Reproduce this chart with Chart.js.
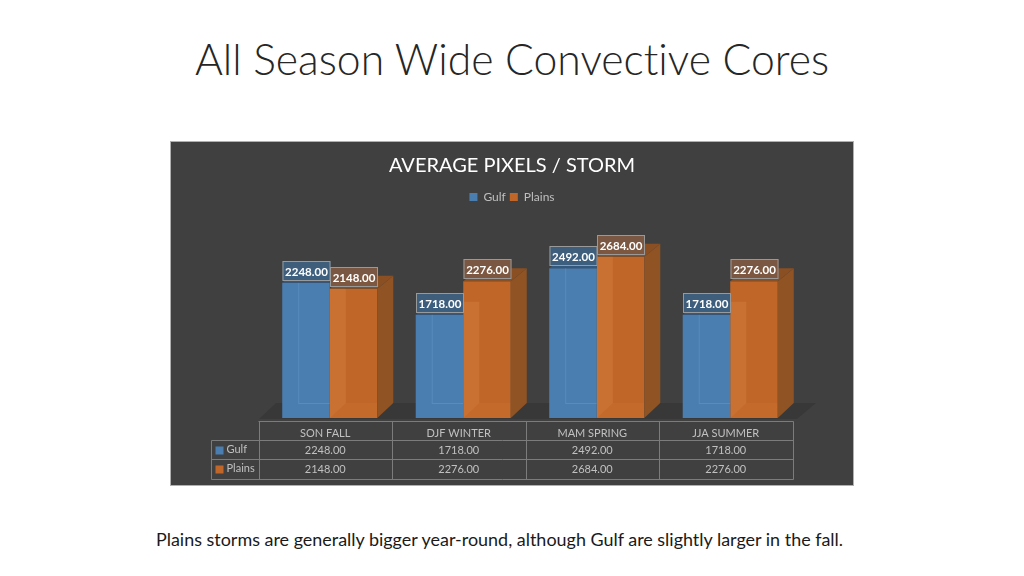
<!DOCTYPE html>
<html>
<head>
<meta charset="utf-8">
<script src="https://cdn.jsdelivr.net/npm/chart.js@4"></script>
<style>
  html, body { margin: 0; padding: 0; background: #fff; width: 1024px; height: 576px; overflow: hidden; }
  #title { position: absolute; left: 0; width: 1024px; top: 33px; text-align: center; font: 300 42.7px Lato, sans-serif; font-variant-ligatures: none; color: #262626; white-space: nowrap; }
  #panel { position: absolute; left: 170px; top: 141px; width: 684px; height: 345px; background: #404040; box-shadow: inset 0 0 0 1px #b0b0b0; }
  #caption { position: absolute; left: 156px; top: 528px; font: 17.95px Lato, sans-serif; font-variant-ligatures: none; color: #1a1a1a; white-space: nowrap; }
</style>
</head>
<body>
<div id="title">All Season Wide Convective Cores</div>
<div id="panel"><canvas id="coresChart" width="684" height="345"></canvas></div>
<div id="caption">Plains storms are generally bigger year-round, although Gulf are slightly larger in the fall.</div>
<script>
const categories = ['SON FALL', 'DJF WINTER', 'MAM SPRING', 'JJA SUMMER'];
const gulfValues = [2248, 1718, 2492, 1718];
const plainsValues = [2148, 2276, 2684, 2276];
const gulfColor = '#4a7eb1';
const plainsColor = '#bf6628';
const depthX = 16;
const depthY = 13;

function poly(ctx, pts, fill) {
  ctx.beginPath();
  pts.forEach((p, i) => i ? ctx.lineTo(p[0], p[1]) : ctx.moveTo(p[0], p[1]));
  ctx.closePath();
  ctx.fillStyle = fill;
  ctx.fill();
}

// floor under the bars
const floorPlugin = {
  id: 'floor',
  beforeDatasetsDraw(chart) {
    const { ctx, chartArea: a, scales: { y } } = chart;
    const base = y.getPixelForValue(0);
    poly(ctx, [[a.left - 4, base + 1], [a.left + 13, base - 15], [a.right + 19, base - 15], [a.right, base + 1]], '#383838');
  }
};

// fake 3D faces on top of the flat bars
const depthPlugin = {
  id: 'depth',
  afterDatasetsDraw(chart) {
    const ctx = chart.ctx;
    const gulfBars = chart.getDatasetMeta(0).data;
    const plainsBars = chart.getDatasetMeta(1).data;
    ctx.save();
    plainsBars.forEach((bar, i) => {
      const l = bar.x - bar.width / 2, r = bar.x + bar.width / 2;
      const g = gulfBars[i], gl = g.x - g.width / 2;
      poly(ctx, [[r, bar.y], [r + depthX, bar.y - depthY], [r + depthX, bar.base - depthY - 2], [r, bar.base]], '#8f5324');
      poly(ctx, [[l, bar.y], [l + depthX, bar.y - depthY], [r + depthX, bar.y - depthY], [r, bar.y]], '#8a4f22');
      // gulf side seen through the plains bar
      const top = Math.max(g.y - depthY, bar.y);
      poly(ctx, [[l, top], [l + depthX, top], [l + depthX, bar.base - depthY - 2], [l, bar.base]], 'rgba(255,170,105,0.17)');
      poly(ctx, [[l, bar.base], [l + depthX, bar.base - depthY - 2], [r, bar.base - depthY - 2], [r, bar.base]], 'rgba(255,170,105,0.08)');
      // gulf cap stops where the plains bar starts
      poly(ctx, [[gl, g.y], [gl + depthX, g.y - depthY], [gl + g.width, g.y - depthY], [gl + g.width, g.y]], '#34597f');
      ctx.fillStyle = 'rgba(150,195,235,0.2)';
      ctx.fillRect(gl + depthX, g.y, 1, g.base - depthY - 2 - g.y);
      ctx.fillRect(gl + depthX, g.base - depthY - 2, g.width - depthX, 1);
    });
    ctx.restore();
  }
};

// value boxes above each bar
const labelPlugin = {
  id: 'valueLabels',
  afterDatasetsDraw(chart) {
    const ctx = chart.ctx;
    const fills = ['rgba(62,96,128,0.94)', 'rgba(124,88,66,0.94)'];
    ctx.save();
    ctx.font = 'bold 11.5px Lato, sans-serif';
    ctx.textAlign = 'center';
    ctx.textBaseline = 'middle';
    chart.data.datasets.forEach((ds, d) => {
      chart.getDatasetMeta(d).data.forEach((bar, i) => {
        const w = 48, h = 20;
        const x = bar.x - w / 2 + 0.5, y = Math.round(bar.y) - 22;
        ctx.fillStyle = fills[d];
        ctx.fillRect(x, y, w, h);
        ctx.strokeStyle = '#999999';
        ctx.lineWidth = 1;
        ctx.strokeRect(x + 0.5, y + 0.5, w - 1, h - 1);
        ctx.fillStyle = '#ffffff';
        ctx.fillText(ds.data[i].toFixed(2), bar.x + 0.5, y + h / 2 + 1);
      });
    });
    ctx.restore();
  }
};

// data table under the plot
const tablePlugin = {
  id: 'dataTable',
  afterDraw(chart) {
    const { ctx, scales: { x, y } } = chart;
    const base = y.getPixelForValue(0);
    const step = x.getPixelForValue(1) - x.getPixelForValue(0);
    const left = Math.round(x.getPixelForValue(0) - step / 2 - 5) + 0.5;
    const rows = [base + 3, base + 22, base + 41, base + 61].map(v => Math.round(v) + 0.5);
    const keyLeft = left - 47;
    ctx.save();
    ctx.strokeStyle = '#7c7c7c';
    ctx.lineWidth = 1;
    ctx.beginPath();
    categories.forEach((c, i) => {
      const cx = Math.round(left + step * i) + 0.5;
      ctx.moveTo(cx, rows[0]);
      ctx.lineTo(cx, rows[3]);
    });
    const end = Math.round(left + step * 4) + 0.5;
    ctx.moveTo(end, rows[0]);
    ctx.lineTo(end, rows[3]);
    ctx.moveTo(left, rows[0]);
    ctx.lineTo(end, rows[0]);
    rows.slice(1).forEach(r => {
      ctx.moveTo(keyLeft, r);
      ctx.lineTo(end, r);
    });
    ctx.moveTo(keyLeft, rows[1]);
    ctx.lineTo(keyLeft, rows[3]);
    ctx.stroke();

    ctx.font = '11px Lato, sans-serif';
    ctx.fillStyle = '#c0c0c0';
    ctx.textBaseline = 'middle';
    ctx.textAlign = 'center';
    categories.forEach((c, i) => {
      const cx = left + step * (i + 0.5);
      ctx.fillText(c, cx, (rows[0] + rows[1]) / 2 + 2);
      ctx.fillText(gulfValues[i].toFixed(2), cx, (rows[1] + rows[2]) / 2);
      ctx.fillText(plainsValues[i].toFixed(2), cx, (rows[2] + rows[3]) / 2);
    });
    ctx.textAlign = 'left';
    [['Gulf', gulfColor, rows[1]], ['Plains', plainsColor, rows[2]]].forEach(([name, color, r]) => {
      ctx.fillStyle = color;
      ctx.fillRect(keyLeft + 4, r + 6, 8, 8);
      ctx.fillStyle = '#c0c0c0';
      ctx.fillText(name, keyLeft + 15, r + 9);
    });
    ctx.restore();
  }
};

new Chart(document.getElementById('coresChart').getContext('2d'), {
  type: 'bar',
  data: {
    labels: categories,
    datasets: [
      { label: 'Gulf', data: gulfValues, backgroundColor: gulfColor },
      { label: 'Plains', data: plainsValues, backgroundColor: plainsColor }
    ]
  },
  options: {
    responsive: false,
    animation: false,
    layout: { padding: { top: 2, left: 57, right: 57, bottom: 68 } },
    categoryPercentage: 0.712,
    barPercentage: 1,
    plugins: {
      title: {
        display: true,
        text: 'AVERAGE PIXELS / STORM',
        color: '#ffffff',
        font: { family: 'Lato, sans-serif', size: 20, weight: 'normal' },
        padding: { top: 11, bottom: 9 }
      },
      legend: {
        display: true,
        labels: {
          color: '#bfbfbf',
          font: { family: 'Lato, sans-serif', size: 12 },
          boxWidth: 8,
          boxHeight: 8,
          padding: 4
        }
      },
      tooltip: { enabled: false }
    },
    scales: {
      x: { display: false },
      y: {
        min: 0,
        max: 3410,
        ticks: { display: false },
        grid: { display: false },
        border: { display: false },
        // keeps the title centred on the panel while the plot sits right of it
        afterFit(scale) { scale.width = 36; }
      }
    }
  },
  plugins: [floorPlugin, depthPlugin, labelPlugin, tablePlugin]
});
</script>
</body>
</html>
